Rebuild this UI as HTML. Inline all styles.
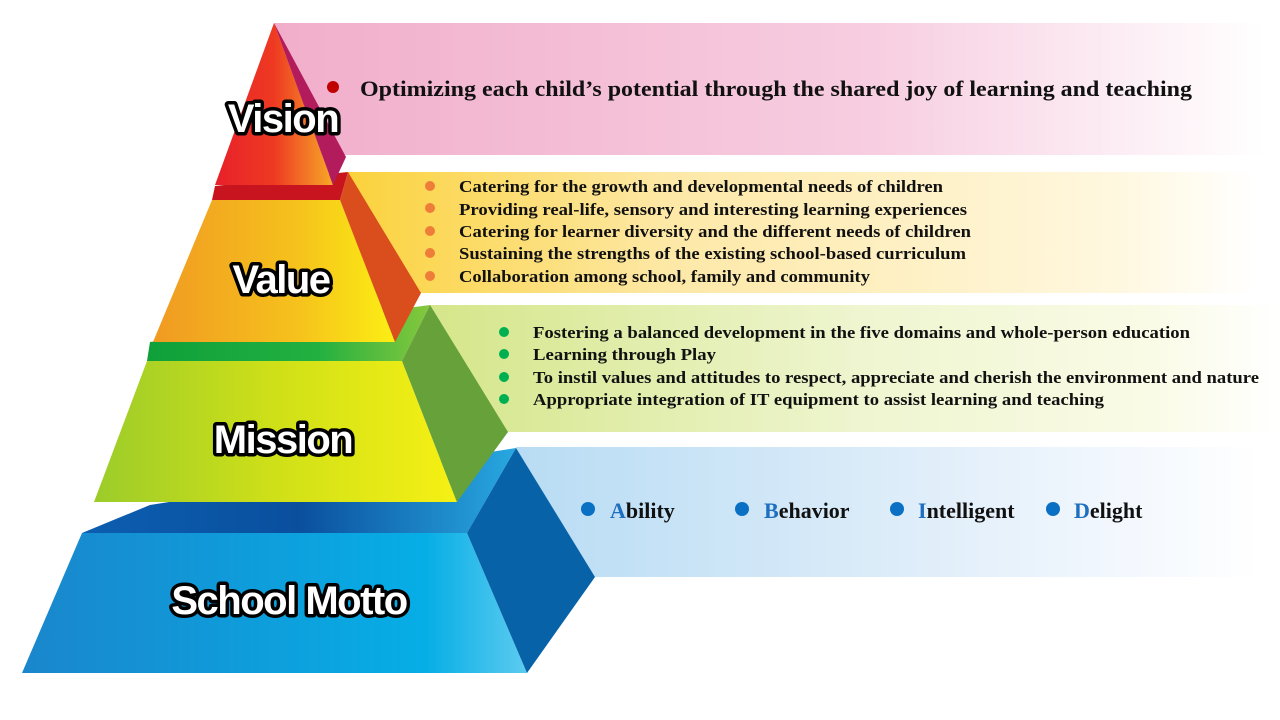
<!DOCTYPE html>
<html><head><meta charset="utf-8"><style>
html,body{margin:0;padding:0;background:#fff;width:1280px;height:720px;overflow:hidden}
svg{display:block}
.lbl{font-family:"Liberation Sans","DejaVu Sans",sans-serif;font-weight:bold;font-size:40px;fill:#fff;stroke:#000;stroke-width:7px;paint-order:stroke;stroke-linejoin:round;letter-spacing:-1.5px}
.t{font-family:"Liberation Serif",serif;font-weight:bold;fill:#111}
</style></head><body>
<svg width="1280" height="720" viewBox="0 0 1280 720" xmlns="http://www.w3.org/2000/svg">
<defs>
<linearGradient id="bp" x1="0" x2="1"><stop offset="0" stop-color="#f1aecb"/><stop offset="0.6" stop-color="#f7cde0"/><stop offset="1" stop-color="#fff"/></linearGradient>
<linearGradient id="by" x1="0" x2="1"><stop offset="0" stop-color="#fbd23c"/><stop offset="0.35" stop-color="#fde8a6"/><stop offset="0.85" stop-color="#fff8e0"/><stop offset="1" stop-color="#fff"/></linearGradient>
<linearGradient id="bg" x1="0" x2="1"><stop offset="0" stop-color="#d5e68a"/><stop offset="0.5" stop-color="#eef5cf"/><stop offset="0.85" stop-color="#fafbe6"/><stop offset="1" stop-color="#fff"/></linearGradient>
<linearGradient id="bb" x1="0" x2="1"><stop offset="0" stop-color="#b8dcf4"/><stop offset="0.5" stop-color="#dcecf9"/><stop offset="0.85" stop-color="#f5f9fe"/><stop offset="1" stop-color="#fff"/></linearGradient>
<linearGradient id="fv" x1="0" x2="1"><stop offset="0" stop-color="#e8202a"/><stop offset="0.5" stop-color="#ee3a22"/><stop offset="1" stop-color="#f6a828"/></linearGradient>
<linearGradient id="fa" x1="0" x2="1"><stop offset="0" stop-color="#f09a22"/><stop offset="0.6" stop-color="#f6c21c"/><stop offset="1" stop-color="#fbee14"/></linearGradient>
<linearGradient id="fm" x1="0" x2="1"><stop offset="0" stop-color="#9ccc2a"/><stop offset="0.5" stop-color="#cfe018"/><stop offset="1" stop-color="#f6f014"/></linearGradient>
<linearGradient id="fs" x1="0" x2="1"><stop offset="0" stop-color="#1a86cc"/><stop offset="0.8" stop-color="#06aee6"/><stop offset="1" stop-color="#5ccbf0"/></linearGradient>
<linearGradient id="tm" x1="0" x2="1"><stop offset="0" stop-color="#0fa03a"/><stop offset="0.6" stop-color="#22b040"/><stop offset="1" stop-color="#86c83c"/></linearGradient>
<linearGradient id="ts" x1="0" x2="1"><stop offset="0" stop-color="#0c5eb0"/><stop offset="0.5" stop-color="#0a4f9e"/><stop offset="1" stop-color="#28a8e0"/></linearGradient>
</defs>
<rect x="274" y="23" width="990" height="132" fill="url(#bp)"/>
<rect x="348" y="172" width="910" height="121" fill="url(#by)"/>
<rect x="430" y="305" width="850" height="127" fill="url(#bg)"/>
<rect x="516" y="447" width="744" height="130" fill="url(#bb)"/>
<polygon points="82,533 467,533 516,448 150,505" fill="url(#ts)"/>
<polygon points="82,533 467,533 527,673 22,673" fill="url(#fs)"/>
<polygon points="467,533 516,448 595,577 527,673" fill="#0862a8"/>
<polygon points="147,361 402,361 430,305 150,342" fill="url(#tm)"/>
<polygon points="147,361 402,361 457,502 94,502" fill="url(#fm)"/>
<polygon points="402,361 430,305 508,432 457,502" fill="#66a13a"/>
<polygon points="212,200 340,200 348,172 215,186" fill="#c8141e"/>
<polygon points="212,200 340,200 395,342 153,342" fill="url(#fa)"/>
<polygon points="340,200 348,172 421,293 395,342" fill="#da4e1e"/>
<polygon points="274,23 333,185 215,185" fill="url(#fv)"/>
<polygon points="274,23 346,157 333,185" fill="#b21c5c"/>
<text class="lbl" x="283" y="132" text-anchor="middle">Vision</text>
<text class="lbl" x="281" y="293" text-anchor="middle">Value</text>
<text class="lbl" x="283" y="453" text-anchor="middle">Mission</text>
<text class="lbl" x="289" y="614" text-anchor="middle">School Motto</text>
<circle cx="333" cy="87" r="6" fill="#c00000"/>
<text class="t" x="360" y="96" font-size="22" textLength="832" lengthAdjust="spacingAndGlyphs">Optimizing each child’s potential through the shared joy of learning and teaching</text>
<g fill="#ee7d3a"><circle cx="430" cy="186" r="5"/><circle cx="430" cy="208" r="5"/><circle cx="430" cy="231" r="5"/><circle cx="430" cy="253" r="5"/><circle cx="430" cy="276" r="5"/></g>
<g class="t" font-size="17">
<text x="459" y="192" textLength="484" lengthAdjust="spacingAndGlyphs">Catering for the growth and developmental needs of children</text>
<text x="459" y="215" textLength="508" lengthAdjust="spacingAndGlyphs">Providing real-life, sensory and interesting learning experiences</text>
<text x="459" y="237" textLength="512" lengthAdjust="spacingAndGlyphs">Catering for learner diversity and the different needs of children</text>
<text x="459" y="259" textLength="507" lengthAdjust="spacingAndGlyphs">Sustaining the strengths of the existing school-based curriculum</text>
<text x="459" y="282" textLength="411" lengthAdjust="spacingAndGlyphs">Collaboration among school, family and community</text>
</g>
<g fill="#00b050"><circle cx="504" cy="332" r="5"/><circle cx="504" cy="354" r="5"/><circle cx="504" cy="377" r="5"/><circle cx="504" cy="399" r="5"/></g>
<g class="t" font-size="17">
<text x="533" y="338" textLength="657" lengthAdjust="spacingAndGlyphs">Fostering a balanced development in the five domains and whole-person education</text>
<text x="533" y="360" textLength="183" lengthAdjust="spacingAndGlyphs">Learning through Play</text>
<text x="533" y="383" textLength="726" lengthAdjust="spacingAndGlyphs">To instil values and attitudes to respect, appreciate and cherish the environment and nature</text>
<text x="533" y="405" textLength="571" lengthAdjust="spacingAndGlyphs">Appropriate integration of IT equipment to assist learning and teaching</text>
</g>
<g fill="#0a70c4"><circle cx="588" cy="509" r="7"/><circle cx="742" cy="509" r="7"/><circle cx="897" cy="509" r="7"/><circle cx="1053" cy="509" r="7"/></g>
<g class="t" font-size="22">
<text x="610" y="518"><tspan fill="#1e6fc0">A</tspan>bility</text>
<text x="764" y="518"><tspan fill="#1e6fc0">B</tspan>ehavior</text>
<text x="918" y="518"><tspan fill="#1e6fc0">I</tspan>ntelligent</text>
<text x="1074" y="518"><tspan fill="#1e6fc0">D</tspan>elight</text>
</g>
</svg>
</body></html>
